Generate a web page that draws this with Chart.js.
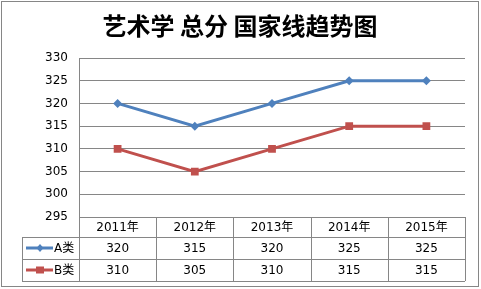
<!DOCTYPE html>
<html>
<head>
<meta charset="utf-8">
<script src="https://cdn.jsdelivr.net/npm/chart.js@4"></script>
<style>
  html, body { margin: 0; padding: 0; background: #fff; }
  #wrap { width: 481px; height: 289px; position: relative; }
</style>
</head>
<body>
<div id="wrap"><canvas id="grafica" width="481" height="289"></canvas></div>
<script>
const titulo = '艺术学 总分 国家线趋势图';
const anios = ['2011年', '2012年', '2013年', '2014年', '2015年'];
const serieA = [320, 315, 320, 325, 325];
const serieB = [310, 305, 310, 315, 315];
const nombres = ['A类', 'B类'];
const colores = ['#4F81BD', '#C0504D'];
const yMin = 295, yMax = 330, yPaso = 5;

const gris = '#868686';
const fuente = '"DejaVu Sans", "Noto Sans CJK SC", sans-serif';

// tabla de datos debajo del grafico + titulo + borde
const tablaPlugin = {
    id: 'tabla',
    afterDraw(chart) {
        const ctx = chart.ctx;
        const area = chart.chartArea;
        const x = chart.scales.x;
        const n = anios.length;
        const ancho = (area.right - area.left) / n;
        const filas = [area.bottom, area.bottom + 20, area.bottom + 42, area.bottom + 64];
        const izq = 22;

        ctx.save();
        // borde exterior
        ctx.strokeStyle = gris;
        ctx.lineWidth = 1;
        ctx.strokeRect(1.5, 1.5, 477, 285);

        // titulo
        ctx.fillStyle = '#000';
        ctx.font = 'bold 24px "Noto Sans CJK SC", sans-serif';
        ctx.textAlign = 'center';
        ctx.textBaseline = 'middle';
        ctx.fillText(titulo, 240, 26);

        // lineas de la tabla
        ctx.beginPath();
        for (let i = 1; i < filas.length; i++) {
            const yy = Math.round(filas[i]) + 0.5;
            ctx.moveTo(izq, yy);
            ctx.lineTo(area.right, yy);
        }
        ctx.moveTo(izq + 0.5, filas[1]);
        ctx.lineTo(izq + 0.5, filas[3]);
        for (let i = 0; i <= n; i++) {
            const xx = Math.round(area.left + i * ancho) + 0.5;
            ctx.moveTo(xx, i === 0 ? area.top : filas[0]);
            ctx.lineTo(xx, filas[3]);
        }
        ctx.stroke();

        // encabezados
        ctx.font = '12px ' + fuente;
        ctx.fillStyle = '#000';
        anios.forEach((a, i) => {
            const cx = x.getPixelForValue(i);
            ctx.fillText(a, cx, (filas[0] + filas[1]) / 2 + 1);
            ctx.fillText(String(serieA[i]), cx, (filas[1] + filas[2]) / 2 + 1);
            ctx.fillText(String(serieB[i]), cx, (filas[2] + filas[3]) / 2 + 1);
        });

        // leyenda en la tabla
        [0, 1].forEach(k => {
            const cy = (filas[k + 1] + filas[k + 2]) / 2;
            ctx.strokeStyle = colores[k];
            ctx.lineWidth = 3;
            ctx.beginPath();
            ctx.moveTo(26, cy);
            ctx.lineTo(53, cy);
            ctx.stroke();
            ctx.fillStyle = colores[k];
            ctx.beginPath();
            if (k === 0) {
                ctx.moveTo(40, cy - 4);
                ctx.lineTo(43.5, cy);
                ctx.lineTo(40, cy + 4);
                ctx.lineTo(36.5, cy);
                ctx.closePath();
            } else {
                ctx.rect(36, cy - 3.5, 8, 7);
            }
            ctx.fill();
            ctx.fillStyle = '#000';
            ctx.textAlign = 'left';
            ctx.fillText(nombres[k], 54, cy + 1);
        });
        ctx.restore();
    }
};

new Chart(document.getElementById('grafica'), {
    type: 'line',
    data: {
        labels: anios,
        datasets: [{
            label: nombres[0],
            data: serieA,
            borderColor: colores[0],
            backgroundColor: colores[0],
            borderWidth: 3,
            pointStyle: 'rectRot',
            pointRadius: 4.5,
            pointHoverRadius: 4.5,
            pointBorderWidth: 0,
            tension: 0
        }, {
            label: nombres[1],
            data: serieB,
            borderColor: colores[1],
            backgroundColor: colores[1],
            borderWidth: 3,
            pointStyle: 'rect',
            pointRadius: 5.5,
            pointHoverRadius: 5.5,
            pointBorderWidth: 0,
            tension: 0
        }]
    },
    options: {
        responsive: false,
        animation: false,
        devicePixelRatio: 1,
        layout: { padding: { top: 58, bottom: 72, left: 0, right: 16 } },
        plugins: {
            legend: { display: false },
            title: { display: false },
            tooltip: { enabled: false }
        },
        scales: {
            x: {
                display: false,
                offset: true
            },
            y: {
                min: yMin,
                max: yMax,
                ticks: {
                    stepSize: yPaso,
                    color: '#000',
                    padding: 11,
                    font: { family: fuente, size: 12 }
                },
                grid: { color: gris, drawTicks: false },
                border: { display: true, color: gris },
                afterFit(scale) { scale.width = 79; }
            }
        }
    },
    plugins: [tablaPlugin]
});
</script>
</body>
</html>
